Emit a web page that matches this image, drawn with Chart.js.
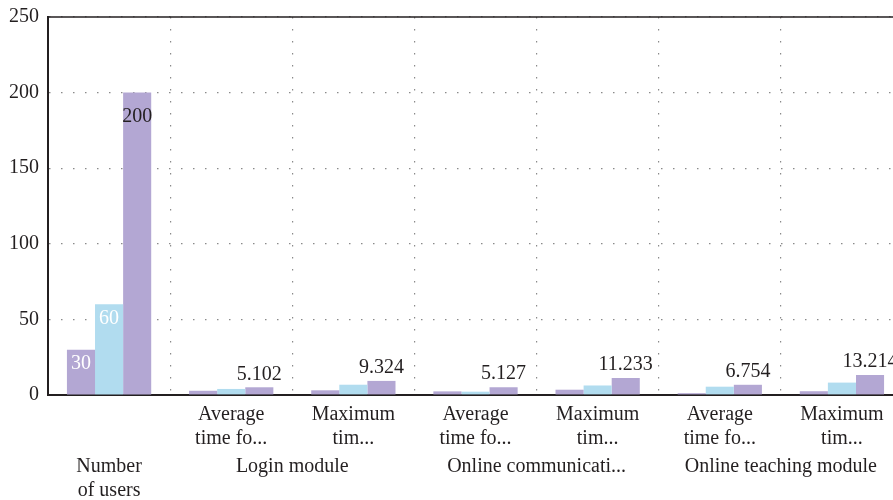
<!DOCTYPE html>
<html>
<head>
<meta charset="utf-8">
<script src="https://cdn.jsdelivr.net/npm/chart.js@4.4.1/dist/chart.umd.min.js"></script>
<style>
  html, body { margin: 0; padding: 0; background: #fff; overflow: hidden; }
  #wrap { width: 912px; height: 503px; }
</style>
</head>
<body>
<div id="wrap"><canvas id="barChart"></canvas></div>
<script>
// ==== DATA ====
const subLabels = [
  "",
  ["Average", "time fo..."],
  ["Maximum", "tim..."],
  ["Average", "time fo..."],
  ["Maximum", "tim..."],
  ["Average", "time fo..."],
  ["Maximum", "tim..."],
];
// group row uses half-category slots so names can sit on category boundaries
const groupLabels = [
  ["Number", "of users"], "", "",
  "Login module", "", "", "",
  "Online communicati...", "", "", "",
  "Online teaching module", "", "",
];

const series1 = [30, 2.8, 3.1, 2.4, 3.5, 1.2, 2.5];
const series2 = [60, 4.0, 6.8, 2.2, 6.3, 5.5, 8.2];
const series3 = [200, 5.102, 9.324, 5.127, 11.233, 6.754, 13.214];

const yTicks = [0, 50, 100, 150, 200, 250];

// ==== STYLE ====
const textColor = "#231f20";
const axisColor = "#231f20";
const gridColor = "#8a8a8a";
const purple = "#b3a7d3";
const blue = "#b1dcef";
const serif = "'Liberation Serif', 'DejaVu Serif', serif";
const font = { family: serif, size: 20, lineHeight: 1.2 };

// value labels: inside the top of tall bars, above the last series otherwise
const valueLabels = {
  id: "valueLabels",
  afterDatasetsDraw(chart) {
    const ctx = chart.ctx;
    ctx.save();
    ctx.font = "20px " + serif;
    ctx.textAlign = "center";
    ctx.textBaseline = "middle";
    chart.data.datasets.forEach((ds, i) => {
      const meta = chart.getDatasetMeta(i);
      meta.data.forEach((bar, j) => {
        const v = ds.data[j];
        const h = bar.base - bar.y;
        if (h > 30) {
          ctx.fillStyle = i === 2 ? textColor : "#ffffff";
          ctx.fillText(String(v), bar.x, bar.y + (i === 2 ? 24 : 14));
        } else if (i === 2) {
          ctx.fillStyle = textColor;
          ctx.fillText(String(v), bar.x, bar.y - 13);
        }
      });
    });
    ctx.restore();
  },
};

// solid line along the top of the plot area
const topBorder = {
  id: "topBorder",
  afterDraw(chart) {
    const { ctx, chartArea } = chart;
    ctx.save();
    ctx.strokeStyle = axisColor;
    ctx.lineWidth = 1.5;
    ctx.beginPath();
    ctx.moveTo(chartArea.left, chartArea.top);
    ctx.lineTo(chartArea.right, chartArea.top);
    ctx.stroke();
    ctx.restore();
  },
};

const barEl = document.getElementById("barChart");
new Chart(barEl.getContext("2d"), {
  type: "bar",
  data: {
    labels: subLabels,
    datasets: [
      { label: "Series 1", data: series1, backgroundColor: purple },
      { label: "Series 2", data: series2, backgroundColor: blue },
      { label: "Series 3", data: series3, backgroundColor: purple },
    ],
  },
  options: {
    responsive: true,
    maintainAspectRatio: false,
    animation: false,
    barPercentage: 1,
    categoryPercentage: 0.69,
    layout: { padding: { top: 17, left: 0, right: 9, bottom: 0 } },
    plugins: {
      legend: { display: false },
      tooltip: { enabled: false },
    },
    scales: {
      x: {
        weight: 0,
        offset: true,
        grid: { offset: true, drawTicks: false, color: gridColor, lineWidth: 1.2 },
        border: { color: axisColor, width: 2, dash: [1.5, 10.5] },
        ticks: { autoSkip: false, maxRotation: 0, padding: 8, color: textColor, font: font },
        // pull the group row a little closer to the sub labels
        afterFit: (axis) => {
          axis.height -= 4;
        },
      },
      x2: {
        type: "category",
        position: "bottom",
        weight: 1,
        offset: true,
        labels: groupLabels,
        grid: { display: false, drawTicks: false },
        border: { display: false },
        ticks: {
          autoSkip: false,
          maxRotation: 0,
          padding: 0,
          color: textColor,
          font: font,
          labelOffset: (c) => c.chart.chartArea.width / groupLabels.length / 2,
        },
      },
      y: {
        min: yTicks[0],
        max: yTicks[yTicks.length - 1],
        afterBuildTicks: (axis) => {
          axis.ticks = yTicks.map((v) => ({ value: v }));
        },
        grid: { drawTicks: false, color: gridColor, lineWidth: 1.2 },
        border: { color: axisColor, width: 2, dash: [1.5, 10.5] },
        ticks: { padding: 9, color: textColor, font: { family: serif, size: 20, lineHeight: 0.6 } },
      },
    },
  },
  plugins: [valueLabels, topBorder],
});
</script>
</body>
</html>
